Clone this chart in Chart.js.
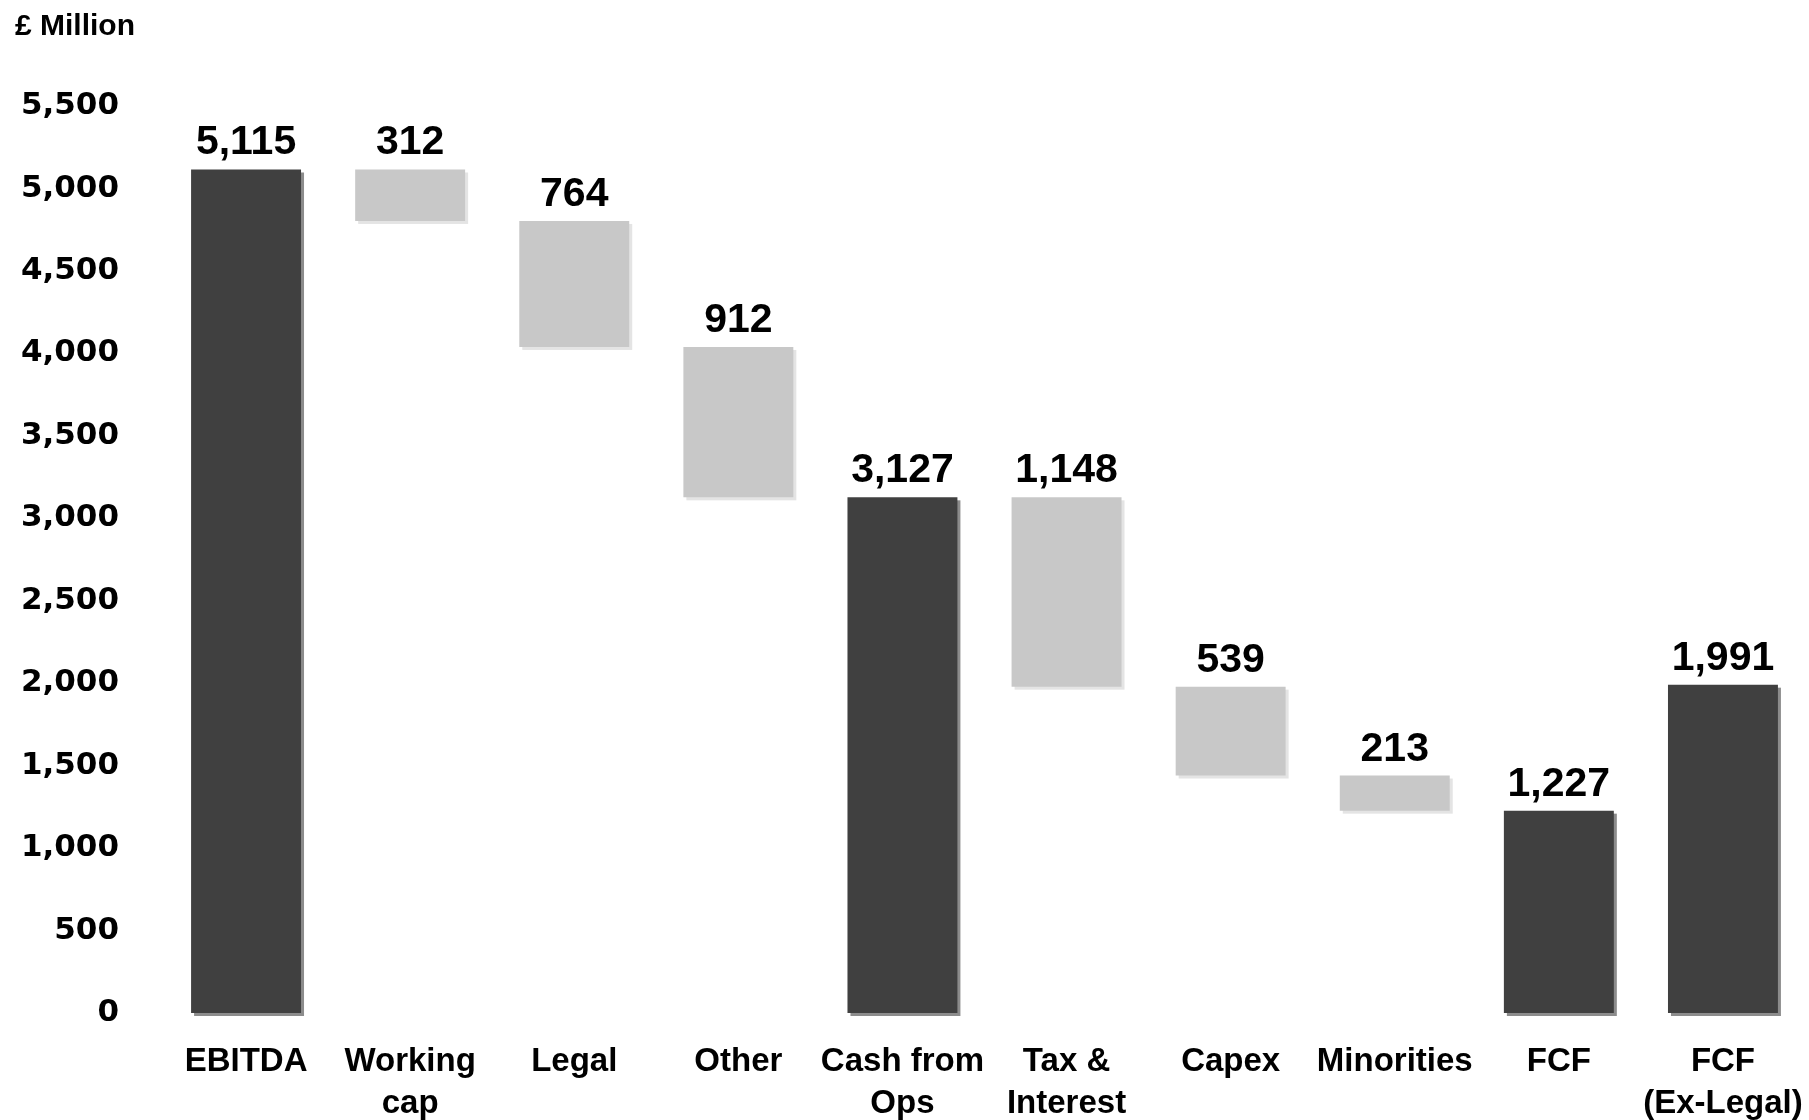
<!DOCTYPE html>
<html>
<head>
<meta charset="utf-8">
<script src="https://cdn.jsdelivr.net/npm/chart.js@4/dist/chart.umd.min.js"></script>
<style>
  html, body { margin: 0; padding: 0; background: #fff; }
  #wrap { width: 1809px; height: 1120px; }
</style>
</head>
<body>
<div id="wrap"><canvas id="c" width="1809" height="1120"></canvas></div>
<script>
const categories = [['EBITDA'], ['Working', 'cap'], ['Legal'], ['Other'], ['Cash from', 'Ops'], ['Tax &', 'Interest'], ['Capex'], ['Minorities'], ['FCF'], ['FCF', '(Ex-Legal)']];
const changes = [5115, -312, -764, -912, 3127, -1148, -539, -213, 1227, 1991];
const isTotal = [true, false, false, false, true, false, false, false, true, true];
const valueLabels = ['5,115', '312', '764', '912', '3,127', '1,148', '539', '213', '1,227', '1,991'];
const yMin = 0, yMax = 5500, yStep = 500;
const unitLabel = '£ Million';

// build floating ranges
let running = 0;
const ranges = changes.map((v, i) => {
  if (isTotal[i]) { running = v; return [0, v]; }
  const start = running; running = running + v;
  return [Math.min(start, running), Math.max(start, running)];
});
const colors = isTotal.map(t => t ? '#404040' : '#c8c8c8');
const shadowColors = isTotal.map(t => t ? '#8c8c8c' : '#e4e4e4');

const shadowPlugin = {
  id: 'barShadow',
  beforeDatasetsDraw(chart) {
    const ctx = chart.ctx;
    const meta = chart.getDatasetMeta(0);
    ctx.save();
    meta.data.forEach((el, i) => {
      const p = el.getProps(['x', 'y', 'base', 'width'], true);
      const top = Math.min(p.y, p.base), bot = Math.max(p.y, p.base);
      ctx.fillStyle = shadowColors[i];
      ctx.fillRect(p.x - p.width / 2 + 3, top + 3, p.width, bot - top);
    });
    ctx.restore();
  }
};

const labelPlugin = {
  id: 'valueLabels',
  afterDatasetsDraw(chart) {
    const ctx = chart.ctx;
    const meta = chart.getDatasetMeta(0);
    ctx.save();
    ctx.font = 'bold 41px "Liberation Sans", Arial, sans-serif';
    ctx.fillStyle = '#000';
    ctx.textAlign = 'center';
    ctx.textBaseline = 'alphabetic';
    meta.data.forEach((el, i) => {
      const top = Math.min(el.y, el.base);
      ctx.fillText(valueLabels[i], el.x, top - 15);
    });
    ctx.restore();
  }
};

new Chart(document.getElementById('c'), {
  type: 'bar',
  data: {
    labels: categories,
    datasets: [{
      data: ranges,
      backgroundColor: colors,
      borderWidth: 0,
      barPercentage: 0.67,
      categoryPercentage: 1.0
    }]
  },
  options: {
    responsive: false,
    animation: false,
    layout: { padding: { left: 15, right: 4, top: 0, bottom: 0 } },
    plugins: {
      legend: { display: false },
      tooltip: { enabled: false },
      title: {
        display: true,
        text: unitLabel,
        align: 'start',
        color: '#000',
        font: { family: '"Liberation Sans", Arial, sans-serif', size: 30, weight: 'bold' },
        padding: { top: 9, bottom: 61 }
      }
    },
    scales: {
      x: {
        grid: { display: false, drawTicks: false },
        border: { display: false },
        ticks: {
          color: '#000',
          padding: 27,
          maxRotation: 0,
          autoSkip: false,
          font: { family: '"Liberation Sans", Arial, sans-serif', size: 33, weight: 'bold', lineHeight: 1.3 }
        },
        afterFit(scale) { scale.height = 107; scale.paddingLeft = 0; scale.paddingRight = 0; }
      },
      y: {
        min: yMin,
        max: yMax,
        grid: { display: false, drawTicks: false },
        border: { display: false },
        ticks: {
          stepSize: yStep,
          color: '#000',
          padding: 45,
          font: { family: '"DejaVu Sans", sans-serif', size: 31, weight: 'bold' },
          callback: v => v.toLocaleString('en-US')
        },
        afterFit(scale) { scale.width = 149; }
      }
    }
  },
  plugins: [shadowPlugin, labelPlugin]
});
</script>
</body>
</html>
